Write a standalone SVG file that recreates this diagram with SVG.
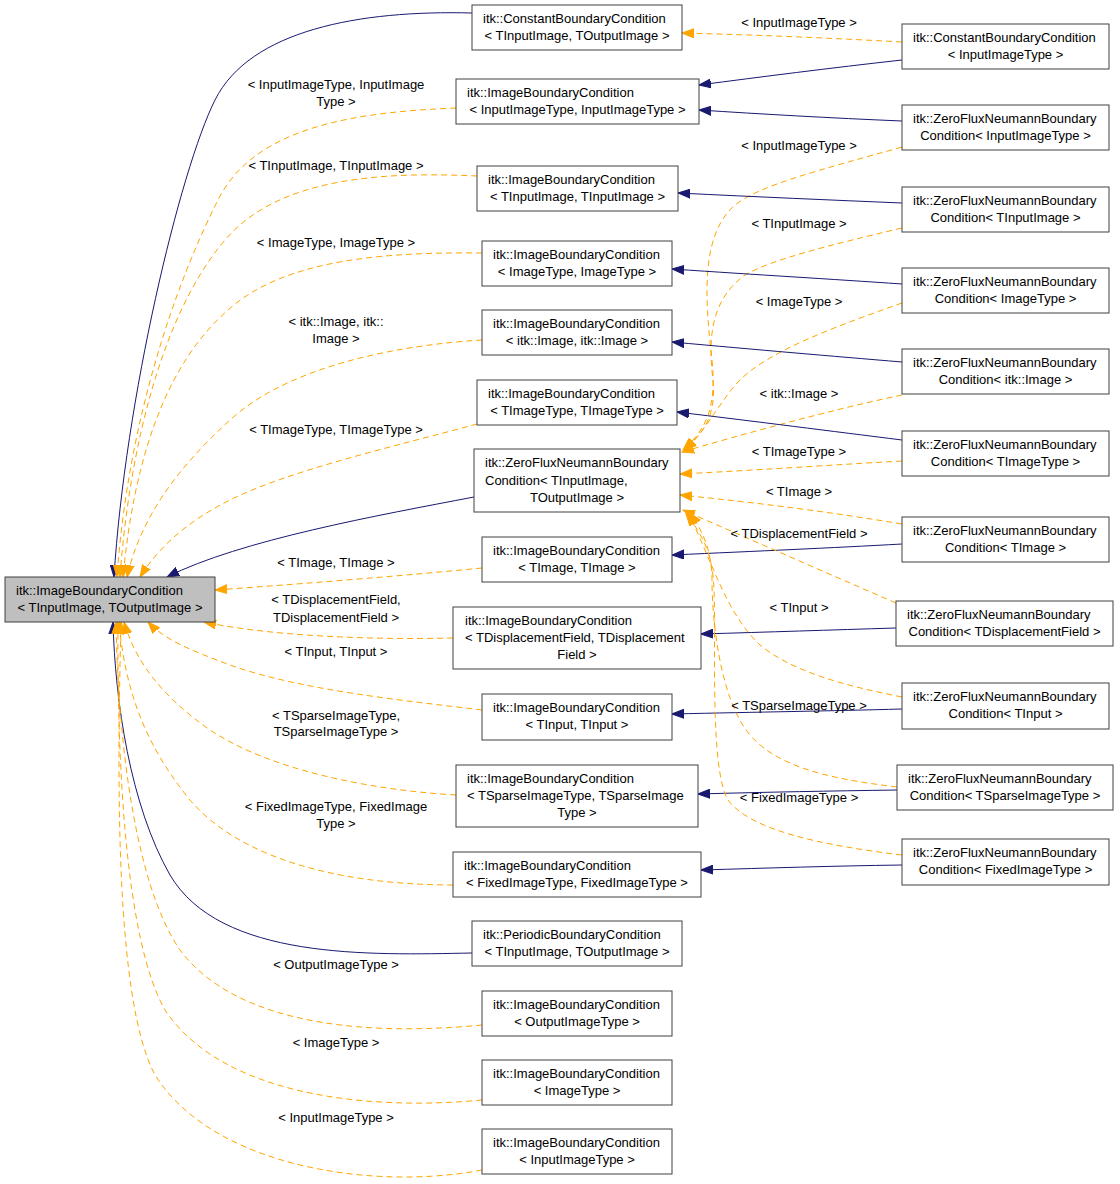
<svg xmlns="http://www.w3.org/2000/svg" width="1120" height="1184" viewBox="0 0 1120 1184">
<style>
text{font-family:"Liberation Sans",Arial,sans-serif;font-size:13px;fill:#000}
.n rect{fill:#fff;stroke:#404040;stroke-width:1}
.n .root{fill:#bfbfbf}
.c{text-anchor:middle}
.b{fill:none;stroke:#191970;stroke-width:1;marker-end:url(#ab)}
.o{fill:none;stroke:#ffa500;stroke-width:1;stroke-dasharray:6,4;marker-end:url(#ao)}
</style>
<defs>
<marker id="ab" markerUnits="userSpaceOnUse" markerWidth="13" markerHeight="10" refX="12" refY="5" orient="auto"><path d="M0,0.5 L12,5 L0,9.5 z" fill="#191970" stroke="#191970"/></marker>
<marker id="ao" markerUnits="userSpaceOnUse" markerWidth="13" markerHeight="10" refX="12" refY="5" orient="auto"><path d="M0,0.5 L12,5 L0,9.5 z" fill="#ffa500" stroke="#ffa500"/></marker>
</defs>
<rect width="1120" height="1184" fill="#fff"/>
<g id="edges">
<path class="b" d="M472,13 C360,10 250,30 215,100 C180,170 125,400 114,577"/>
<path class="o" d="M456,108 C360,112 255,125 218,200 C175,285 128,420 117,577"/>
<path class="o" d="M477,176 C390,172 280,175 225,240 C165,310 130,440 120,577"/>
<path class="o" d="M482,253 C390,252 285,258 228,310 C165,365 134,460 123,577"/>
<path class="o" d="M482,340 C400,345 290,365 230,420 C175,470 140,520 127,577"/>
<path class="o" d="M477,424 C400,445 290,470 230,500 C190,520 160,545 140,577"/>
<path class="b" d="M474,497 C380,515 240,540 167,577"/>
<path class="o" d="M482,568 C400,576 300,584 215,590"/>
<path class="o" d="M453,638 C370,640 270,636 204,622"/>
<path class="o" d="M482,710 C400,700 300,690 230,665 C190,650 165,640 148,622"/>
<path class="o" d="M456,795 C370,790 270,770 210,730 C160,695 135,660 124,622"/>
<path class="o" d="M453,885 C370,885 250,870 190,800 C145,745 125,690 119,622"/>
<path class="b" d="M472,953 C370,955 220,960 170,875 C130,805 115,700 113,622"/>
<path class="o" d="M482,1025 C380,1035 240,1030 180,950 C135,885 118,740 116,622"/>
<path class="o" d="M482,1100 C380,1110 225,1100 165,1010 C125,940 117,760 118,622"/>
<path class="o" d="M482,1170 C380,1190 215,1170 155,1075 C115,1000 117,780 121,622"/>
<path class="o" d="M902,42 C830,38 760,35 682,33"/>
<path class="b" d="M902,60 C830,68 760,77 699,85"/>
<path class="b" d="M902,121 C830,118 760,114 699,110"/>
<path class="o" d="M902,147 C820,170 760,185 735,205 C700,235 705,300 712,360 C717,410 705,430 683,450"/>
<path class="b" d="M902,203 C830,200 760,197 678,193"/>
<path class="o" d="M902,228 C830,245 770,260 745,275 C710,300 708,340 713,380 C716,415 705,432 684,450"/>
<path class="b" d="M902,284 C830,279 760,275 672,269"/>
<path class="o" d="M902,303 C840,325 770,350 740,380 C722,398 710,425 685,450"/>
<path class="b" d="M902,362 C830,356 760,350 672,342"/>
<path class="o" d="M902,395 C830,410 740,435 682,452"/>
<path class="b" d="M902,440 C830,431 760,422 677,412"/>
<path class="o" d="M902,461 C830,465 760,470 680,474"/>
<path class="o" d="M902,524 C830,512 760,503 680,495"/>
<path class="b" d="M902,544 C830,548 760,551 672,555"/>
<path class="o" d="M896,603 C820,570 740,535 683,510"/>
<path class="b" d="M896,628 C830,630 770,632 701,634"/>
<path class="o" d="M902,697 C840,685 790,670 760,645 C725,612 712,560 688,513"/>
<path class="b" d="M902,709 C830,711 760,712 672,714"/>
<path class="o" d="M897,787 C840,780 780,770 750,735 C720,700 712,620 712,580 C712,550 702,530 690,513"/>
<path class="b" d="M897,790 C830,791 770,792 698,794"/>
<path class="o" d="M902,855 C820,845 750,830 728,800 C710,770 716,650 714,590 C713,555 703,535 686,514"/>
<path class="b" d="M902,865 C830,866 770,868 701,870"/>
</g>
<g id="edge-labels">
<text class="c" x="336" y="89">&lt; InputImageType, InputImage</text>
<text class="c" x="336" y="106">Type &gt;</text>
<text class="c" x="336" y="170">&lt; TInputImage, TInputImage &gt;</text>
<text class="c" x="336" y="247">&lt; ImageType, ImageType &gt;</text>
<text class="c" x="336" y="326">&lt; itk::Image, itk::</text>
<text class="c" x="336" y="343">Image &gt;</text>
<text class="c" x="336" y="434">&lt; TImageType, TImageType &gt;</text>
<text class="c" x="336" y="567">&lt; TImage, TImage &gt;</text>
<text class="c" x="336" y="604">&lt; TDisplacementField,</text>
<text class="c" x="336" y="622">TDisplacementField &gt;</text>
<text class="c" x="336" y="656">&lt; TInput, TInput &gt;</text>
<text class="c" x="336" y="720">&lt; TSparseImageType,</text>
<text class="c" x="336" y="736">TSparseImageType &gt;</text>
<text class="c" x="336" y="811">&lt; FixedImageType, FixedImage</text>
<text class="c" x="336" y="828">Type &gt;</text>
<text class="c" x="336" y="969">&lt; OutputImageType &gt;</text>
<text class="c" x="336" y="1047">&lt; ImageType &gt;</text>
<text class="c" x="336" y="1122">&lt; InputImageType &gt;</text>
<text class="c" x="799" y="27">&lt; InputImageType &gt;</text>
<text class="c" x="799" y="150">&lt; InputImageType &gt;</text>
<text class="c" x="799" y="228">&lt; TInputImage &gt;</text>
<text class="c" x="799" y="306">&lt; ImageType &gt;</text>
<text class="c" x="799" y="398">&lt; itk::Image &gt;</text>
<text class="c" x="799" y="456">&lt; TImageType &gt;</text>
<text class="c" x="799" y="496">&lt; TImage &gt;</text>
<text class="c" x="799" y="538">&lt; TDisplacementField &gt;</text>
<text class="c" x="799" y="612">&lt; TInput &gt;</text>
<text class="c" x="799" y="710">&lt; TSparseImageType &gt;</text>
<text class="c" x="799" y="802">&lt; FixedImageType &gt;</text>
</g>
<g id="root" class="n"><rect class="root" x="5" y="577" width="210" height="45"/><text x="16" y="595">itk::ImageBoundaryCondition</text><text class="c" x="110" y="612">&lt; TInputImage, TOutputImage &gt;</text></g>
<g id="m1" class="n"><rect x="472" y="5" width="210" height="45"/><text x="483" y="23">itk::ConstantBoundaryCondition</text><text class="c" x="577" y="40">&lt; TInputImage, TOutputImage &gt;</text></g>
<g id="m2" class="n"><rect x="456" y="79" width="243" height="45"/><text x="467" y="97">itk::ImageBoundaryCondition</text><text class="c" x="577.5" y="114">&lt; InputImageType, InputImageType &gt;</text></g>
<g id="m3" class="n"><rect x="477" y="166" width="201" height="45"/><text x="488" y="184">itk::ImageBoundaryCondition</text><text class="c" x="577.5" y="201">&lt; TInputImage, TInputImage &gt;</text></g>
<g id="m4" class="n"><rect x="482" y="241" width="190" height="45"/><text x="493" y="259">itk::ImageBoundaryCondition</text><text class="c" x="577" y="276">&lt; ImageType, ImageType &gt;</text></g>
<g id="m5" class="n"><rect x="482" y="310" width="190" height="45"/><text x="493" y="328">itk::ImageBoundaryCondition</text><text class="c" x="577" y="345">&lt; itk::Image, itk::Image &gt;</text></g>
<g id="m6" class="n"><rect x="477" y="380" width="200" height="45"/><text x="488" y="398">itk::ImageBoundaryCondition</text><text class="c" x="577" y="415">&lt; TImageType, TImageType &gt;</text></g>
<g id="m7" class="n"><rect x="474" y="449" width="206" height="63"/><text x="485" y="467">itk::ZeroFluxNeumannBoundary</text><text x="485" y="485">Condition&lt; TInputImage,</text><text class="c" x="577" y="502">TOutputImage &gt;</text></g>
<g id="m8" class="n"><rect x="482" y="537" width="190" height="45"/><text x="493" y="555">itk::ImageBoundaryCondition</text><text class="c" x="577" y="572">&lt; TImage, TImage &gt;</text></g>
<g id="m9" class="n"><rect x="453" y="607" width="248" height="62"/><text x="465" y="625">itk::ImageBoundaryCondition</text><text x="465" y="642">&lt; TDisplacementField, TDisplacement</text><text class="c" x="577" y="659">Field &gt;</text></g>
<g id="m10" class="n"><rect x="482" y="694" width="190" height="46"/><text x="493" y="712">itk::ImageBoundaryCondition</text><text class="c" x="577" y="729">&lt; TInput, TInput &gt;</text></g>
<g id="m11" class="n"><rect x="456" y="765" width="242" height="62"/><text x="467" y="783">itk::ImageBoundaryCondition</text><text x="467" y="800">&lt; TSparseImageType, TSparseImage</text><text class="c" x="577" y="817">Type &gt;</text></g>
<g id="m12" class="n"><rect x="453" y="852" width="248" height="45"/><text x="464" y="870">itk::ImageBoundaryCondition</text><text class="c" x="577" y="887">&lt; FixedImageType, FixedImageType &gt;</text></g>
<g id="m13" class="n"><rect x="472" y="921" width="210" height="45"/><text x="483" y="939">itk::PeriodicBoundaryCondition</text><text class="c" x="577" y="956">&lt; TInputImage, TOutputImage &gt;</text></g>
<g id="m14" class="n"><rect x="482" y="991" width="190" height="45"/><text x="493" y="1009">itk::ImageBoundaryCondition</text><text class="c" x="577" y="1026">&lt; OutputImageType &gt;</text></g>
<g id="m15" class="n"><rect x="482" y="1060" width="190" height="45"/><text x="493" y="1078">itk::ImageBoundaryCondition</text><text class="c" x="577" y="1095">&lt; ImageType &gt;</text></g>
<g id="m16" class="n"><rect x="482" y="1129" width="190" height="45"/><text x="493" y="1147">itk::ImageBoundaryCondition</text><text class="c" x="577" y="1164">&lt; InputImageType &gt;</text></g>
<g id="r1" class="n"><rect x="902" y="24" width="207" height="45"/><text x="913" y="42">itk::ConstantBoundaryCondition</text><text class="c" x="1005.5" y="59">&lt; InputImageType &gt;</text></g>
<g id="r2" class="n"><rect x="902" y="105" width="207" height="45"/><text x="913" y="123">itk::ZeroFluxNeumannBoundary</text><text class="c" x="1005.5" y="140">Condition&lt; InputImageType &gt;</text></g>
<g id="r3" class="n"><rect x="902" y="187" width="207" height="45"/><text x="913" y="205">itk::ZeroFluxNeumannBoundary</text><text class="c" x="1005.5" y="222">Condition&lt; TInputImage &gt;</text></g>
<g id="r4" class="n"><rect x="902" y="268" width="207" height="45"/><text x="913" y="286">itk::ZeroFluxNeumannBoundary</text><text class="c" x="1005.5" y="303">Condition&lt; ImageType &gt;</text></g>
<g id="r5" class="n"><rect x="902" y="349" width="207" height="45"/><text x="913" y="367">itk::ZeroFluxNeumannBoundary</text><text class="c" x="1005.5" y="384">Condition&lt; itk::Image &gt;</text></g>
<g id="r6" class="n"><rect x="902" y="431" width="207" height="45"/><text x="913" y="449">itk::ZeroFluxNeumannBoundary</text><text class="c" x="1005.5" y="466">Condition&lt; TImageType &gt;</text></g>
<g id="r7" class="n"><rect x="902" y="517" width="207" height="45"/><text x="913" y="535">itk::ZeroFluxNeumannBoundary</text><text class="c" x="1005.5" y="552">Condition&lt; TImage &gt;</text></g>
<g id="r8" class="n"><rect x="896" y="601" width="217" height="45"/><text x="907" y="619">itk::ZeroFluxNeumannBoundary</text><text class="c" x="1004.5" y="636">Condition&lt; TDisplacementField &gt;</text></g>
<g id="r9" class="n"><rect x="902" y="683" width="207" height="46"/><text x="913" y="701">itk::ZeroFluxNeumannBoundary</text><text class="c" x="1005.5" y="718">Condition&lt; TInput &gt;</text></g>
<g id="r10" class="n"><rect x="897" y="765" width="216" height="45"/><text x="908" y="783">itk::ZeroFluxNeumannBoundary</text><text class="c" x="1005" y="800">Condition&lt; TSparseImageType &gt;</text></g>
<g id="r11" class="n"><rect x="902" y="839" width="207" height="46"/><text x="913" y="857">itk::ZeroFluxNeumannBoundary</text><text class="c" x="1005.5" y="874">Condition&lt; FixedImageType &gt;</text></g>
</svg>
